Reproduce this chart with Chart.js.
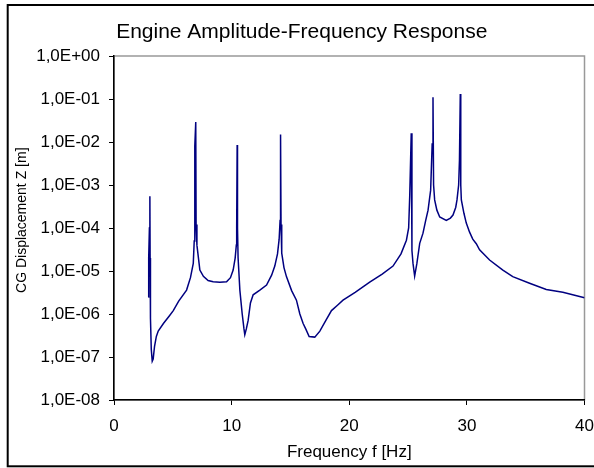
<!DOCTYPE html>
<html>
<head>
<meta charset="utf-8">
<script src="https://cdn.jsdelivr.net/npm/chart.js@4/dist/chart.umd.min.js"></script>
<style>
  html, body { margin: 0; padding: 0; background: #fff; }
  canvas { display: block; }
</style>
</head>
<body>
<canvas id="myChart" width="594" height="468"></canvas>
<script>
'use strict'

// frequency [Hz] and CG displacement Z [m]
const freqHz = [
  2.91, 2.93, 2.97, 3.01, 3.05, 3.07, 3.10, 3.17, 3.25, 3.33, 3.45, 3.60, 3.76,
  4.20, 4.70, 5.04, 5.50, 6.17, 6.50, 6.74, 6.82, 6.86, 6.88, 6.95, 6.98, 7.05,
  7.30, 7.60, 8.00, 8.43, 9.00, 9.57, 9.90, 10.13, 10.30, 10.40, 10.43, 10.47,
  10.50, 10.55, 10.70, 10.90, 11.05, 11.12, 11.25, 11.40, 11.60, 11.83, 12.40,
  12.97, 13.40, 13.67, 13.90, 14.04, 14.12, 14.16, 14.20, 14.26, 14.45, 14.66,
  15.10, 15.51, 15.80, 16.08, 16.30, 16.59, 17.07, 17.50, 18.00, 18.49, 19.00,
  19.47, 20.50, 21.74, 22.80, 23.72, 24.40, 24.86, 25.05, 25.14, 25.27, 25.33,
  25.42, 25.56, 25.75, 25.99, 26.27, 26.50, 26.70, 26.92, 27.05, 27.12, 27.17,
  27.26, 27.45, 27.69, 28.25, 28.60, 28.82, 29.05, 29.16, 29.30, 29.37, 29.44,
  29.48, 29.53, 29.75, 29.95, 30.23, 30.50, 30.80, 31.08, 31.93, 33.06, 33.90,
  35.33, 36.75, 38.16, 40.00
];

const dispZ = [
  2.5e-6, 6e-6, 2e-5, 1e-4, 5.5e-4, 2e-5, 8e-7, 1.5e-7, 8e-8, 9e-8, 1.8e-7, 3e-7, 4e-7,
  6e-7, 9e-7, 1.2e-6, 2e-6, 3.6e-6, 7e-6, 1.5e-5, 5e-5, 1e-4, 8e-3, 2.9e-2, 1.2e-4, 4e-5,
  1.05e-5, 7.5e-6, 6e-6, 5.6e-6, 5.5e-6, 5.6e-6, 7e-6, 1.05e-5, 2e-5, 4e-5, 1e-4, 8.5e-3,
  1e-4, 2e-5, 3.6e-6, 1e-6, 4.5e-7, 3.3e-7, 4.5e-7, 7e-7, 1.8e-6, 2.8e-6, 3.6e-6,
  4.7e-6, 8e-6, 1.3e-5, 2.5e-5, 5.5e-5, 1.5e-4, 1.5e-2, 1.2e-4, 2.6e-5, 1.2e-5, 7.4e-6,
  3.5e-6, 2.1e-6, 1e-6, 6e-7, 4.5e-7, 3e-7, 2.9e-7, 4e-7, 7e-7, 1.2e-6, 1.6e-6,
  2.1e-6, 3.2e-6, 5.5e-6, 8.5e-6, 1.3e-5, 2.5e-5, 5.2e-5, 1e-4, 5.4e-4, 1.6e-2, 3e-5,
  1.5e-5, 7.6e-6, 1.5e-5, 4.4e-5, 7.6e-5, 1.5e-4, 2.6e-4, 7.6e-4, 9e-3, 1.1e-1, 1e-3,
  4.5e-4, 2.6e-4, 1.8e-4, 1.5e-4, 1.7e-4, 2e-4, 3e-4, 4.5e-4, 1e-3, 3.8e-3, 1.3e-1,
  1e-3, 4.5e-4, 2.2e-4, 1.3e-4, 8e-5, 5.5e-5, 4.3e-5, 3.1e-5, 1.8e-5, 1.05e-5, 7.4e-6,
  5.2e-6, 3.7e-6, 3.2e-6, 2.4e-6
];

const xTickValues = [0, 10, 20, 30, 40];
const yTickValues = [1e-8, 1e-7, 1e-6, 1e-5, 1e-4, 1e-3, 1e-2, 1e-1, 1];
const yTickLabels = [
  '1,0E-08', '1,0E-07', '1,0E-06', '1,0E-05', '1,0E-04',
  '1,0E-03', '1,0E-02', '1,0E-01', '1,0E+00'
];

const FONT = '"Liberation Sans", Arial, sans-serif';

// gray box round the plot area, black frame round the whole chart
const frames = {
  id: 'frames',
  beforeDraw(chart) {
    const {ctx, chartArea: a} = chart;
    ctx.save();
    ctx.strokeStyle = '#999999';
    ctx.lineWidth = 1.5;
    ctx.strokeRect(a.left, a.top, a.right - a.left, a.bottom - a.top);
    ctx.restore();
  },
  afterDraw(chart) {
    const ctx = chart.ctx;
    ctx.save();
    ctx.strokeStyle = '#000';
    ctx.lineWidth = 2;
    ctx.strokeRect(7.7, 5, 620, 461.3);
    ctx.restore();
  }
};

const points = freqHz.map((f, i) => ({x: f, y: dispZ[i]}));

const config = {
  type: 'scatter',
  data: {
    datasets: [{
      data: points,
      showLine: true,
      borderColor: '#000080',
      borderWidth: 1.5,
      pointRadius: 0,
      tension: 0,
    }],
  },
  options: {
    responsive: false,
    animation: false,
    layout: { padding: { left: 19, right: 9.5, top: 0, bottom: 0 } },
    plugins: {
      legend: { display: false },
      tooltip: { enabled: false },
      title: {
        display: true,
        text: 'Engine Amplitude-Frequency Response',
        color: '#000',
        font: { family: FONT, size: 21, weight: 'normal' },
        padding: { top: 19.5, bottom: 11.3 },
      },
    },
    scales: {
      x: {
        type: 'linear',
        min: 0,
        max: 40,
        afterBuildTicks: (scale) => { scale.ticks = xTickValues.map(v => ({value: v})); },
        afterFit: (scale) => {
          scale.height = 68;
          scale.paddingRight = 0;
          scale.paddingLeft = 0;
        },
        ticks: { color: '#000', font: { family: FONT, size: 17 }, padding: 11, maxRotation: 0 },
        grid: { drawOnChartArea: false, drawTicks: true, tickLength: 5, color: '#000' },
        border: { color: '#000', width: 1.5 },
        title: {
          display: true,
          text: 'Frequency f [Hz]',
          color: '#000',
          font: { family: FONT, size: 17 },
          padding: { top: 0, bottom: 5 },
        },
      },
      y: {
        type: 'logarithmic',
        min: 1e-8,
        max: 1,
        afterBuildTicks: (scale) => { scale.ticks = yTickValues.map(v => ({value: v})); },
        afterFit: (scale) => { scale.width = 95; },
        ticks: {
          color: '#000',
          font: { family: FONT, size: 17 },
          padding: 9,
          callback: (v, i) => yTickLabels[i],
        },
        grid: { drawOnChartArea: false, drawTicks: true, tickLength: 5, color: '#000' },
        border: { color: '#000', width: 1.5 },
        title: {
          display: true,
          text: '    CG Displacement Z [m]',
          color: '#000',
          font: { family: FONT, size: 14 },
          padding: { top: -5.4, bottom: 0 },
        },
      },
    },
  },
  plugins: [frames],
};

const myChart = new Chart(document.getElementById('myChart'), config);
</script>
</body>
</html>
